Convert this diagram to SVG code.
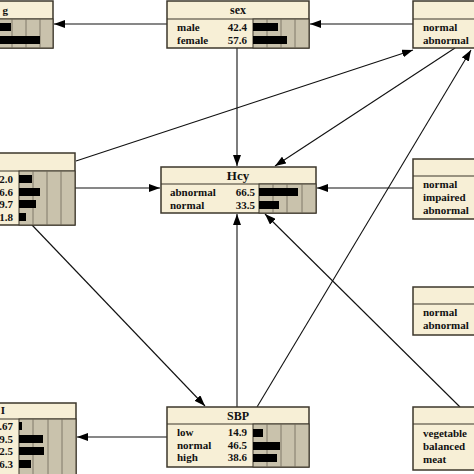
<svg xmlns="http://www.w3.org/2000/svg" width="474" height="474" viewBox="0 0 474 474">
<defs>
<style>
.box{fill:#f7efd6;stroke:#3d372b;stroke-width:1.5}
.sep{stroke:#3d372b;stroke-width:1.2}
.bararea{fill:#c9c2ac;stroke:#3d372b;stroke-width:1}
.grid{stroke:#6e6858;stroke-width:0.8}
.bar{fill:#000}
text{font-family:"Liberation Serif","Times New Roman",serif;font-weight:bold;font-size:11px;fill:#111}
.title{font-size:12px;text-anchor:middle}
.big{font-size:13px}
.val{text-anchor:end}
.conn line{stroke:#111;stroke-width:1.1;marker-end:url(#arr)}
</style>
<marker id="arr" markerUnits="userSpaceOnUse" markerWidth="11" markerHeight="8" refX="11" refY="4" orient="auto">
<path d="M0,0 L11,4 L0,8 z" fill="#000"/>
</marker>
</defs>
<rect width="474" height="474" fill="#fff"/>

<g class="conn" id="connectors">
<line x1="167" y1="24" x2="54" y2="24"/>
<line x1="413" y1="24" x2="310" y2="24"/>
<line x1="237" y1="48" x2="237" y2="166"/>
<line x1="75" y1="188" x2="160" y2="188"/>
<line x1="413" y1="188" x2="317" y2="188"/>
<line x1="455" y1="48" x2="275" y2="166"/>
<line x1="237" y1="407" x2="237" y2="214"/>
<line x1="460" y1="407" x2="265" y2="214"/>
<line x1="76" y1="161" x2="413" y2="50"/>
<line x1="257" y1="407" x2="471" y2="50"/>
<line x1="32" y1="225" x2="205" y2="406"/>
<line x1="167" y1="437" x2="77" y2="437"/>
</g>

<g id="node-topleft">
<rect class="box" x="-89" y="1" width="142" height="47"/>
<line class="sep" x1="-89" y1="19" x2="53" y2="19"/>
<rect class="bararea" x="-3" y="19" width="56" height="29"/>
<line class="grid" x1="12" y1="19" x2="12" y2="48"/>
<line class="grid" x1="26" y1="19" x2="26" y2="48"/>
<line class="grid" x1="40" y1="19" x2="40" y2="48"/>
<rect class="bar" x="-3" y="23" width="14" height="8"/>
<rect class="bar" x="-3" y="36" width="43" height="8"/>
<text x="8" y="14" class="val">g</text>
</g>

<g id="node-sex">
<rect class="box" x="167" y="1" width="142" height="47"/>
<line class="sep" x1="167" y1="19" x2="309" y2="19"/>
<rect class="bararea" x="253" y="19" width="56" height="29"/>
<line class="grid" x1="267" y1="19" x2="267" y2="48"/>
<line class="grid" x1="281" y1="19" x2="281" y2="48"/>
<line class="grid" x1="295" y1="19" x2="295" y2="48"/>
<rect class="bar" x="253" y="23" width="25" height="8"/>
<rect class="bar" x="253" y="36" width="34" height="8"/>
<text x="238" y="14" class="title">sex</text>
<text x="177" y="31">male</text>
<text x="247" y="31" class="val">42.4</text>
<text x="177" y="44">female</text>
<text x="247" y="44" class="val">57.6</text>
</g>

<g id="node-topright">
<rect class="box" x="413" y="1" width="142" height="47"/>
<line class="sep" x1="413" y1="19" x2="474" y2="19"/>
<text x="423" y="31">normal</text>
<text x="423" y="44">abnormal</text>
</g>

<g id="node-leftmid">
<rect class="box" x="-67" y="153" width="142" height="72"/>
<line class="sep" x1="-67" y1="171" x2="75" y2="171"/>
<rect class="bararea" x="19" y="171" width="56" height="54"/>
<line class="grid" x1="33" y1="171" x2="33" y2="225"/>
<line class="grid" x1="47" y1="171" x2="47" y2="225"/>
<line class="grid" x1="61" y1="171" x2="61" y2="225"/>
<rect class="bar" x="19" y="175" width="13" height="8"/>
<rect class="bar" x="19" y="188" width="21" height="8"/>
<rect class="bar" x="19" y="200" width="17" height="8"/>
<rect class="bar" x="19" y="213" width="7" height="8"/>
<text x="13" y="183" class="val">2.0</text>
<text x="13" y="196" class="val">6.6</text>
<text x="13" y="208" class="val">9.7</text>
<text x="13" y="221" class="val">1.8</text>
</g>

<g id="node-hcy">
<rect class="box" x="161" y="167" width="155" height="46"/>
<line class="sep" x1="161" y1="184" x2="316" y2="184"/>
<rect class="bararea" x="259" y="184" width="57" height="29"/>
<line class="grid" x1="273" y1="184" x2="273" y2="213"/>
<line class="grid" x1="287" y1="184" x2="287" y2="213"/>
<line class="grid" x1="302" y1="184" x2="302" y2="213"/>
<rect class="bar" x="259" y="188" width="39" height="8"/>
<rect class="bar" x="259" y="201" width="20" height="8"/>
<text x="238" y="180" class="title big">Hcy</text>
<text x="170" y="196">abnormal</text>
<text x="255" y="196" class="val">66.5</text>
<text x="170" y="209">normal</text>
<text x="255" y="209" class="val">33.5</text>
</g>

<g id="node-rightmid">
<rect class="box" x="413" y="159" width="142" height="60"/>
<line class="sep" x1="413" y1="176" x2="474" y2="176"/>
<text x="423" y="188">normal</text>
<text x="423" y="201">impaired</text>
<text x="423" y="214">abnormal</text>
</g>

<g id="node-rightlow">
<rect class="box" x="413" y="287" width="142" height="48"/>
<line class="sep" x1="413" y1="304" x2="474" y2="304"/>
<text x="423" y="316">normal</text>
<text x="423" y="329">abnormal</text>
</g>

<g id="node-diet">
<rect class="box" x="413" y="407" width="142" height="63"/>
<line class="sep" x1="413" y1="424" x2="474" y2="424"/>
<text x="423" y="437">vegetable</text>
<text x="423" y="450">balanced</text>
<text x="423" y="463">meat</text>
</g>

<g id="node-sbp">
<rect class="box" x="167" y="407" width="142" height="60"/>
<line class="sep" x1="167" y1="424" x2="309" y2="424"/>
<rect class="bararea" x="253" y="424" width="56" height="43"/>
<line class="grid" x1="267" y1="424" x2="267" y2="467"/>
<line class="grid" x1="281" y1="424" x2="281" y2="467"/>
<line class="grid" x1="295" y1="424" x2="295" y2="467"/>
<rect class="bar" x="253" y="429" width="10" height="8"/>
<rect class="bar" x="253" y="442" width="27" height="8"/>
<rect class="bar" x="253" y="454" width="24" height="8"/>
<text x="238" y="420" class="title">SBP</text>
<text x="177" y="436">low</text>
<text x="247" y="436" class="val">14.9</text>
<text x="177" y="449">normal</text>
<text x="247" y="449" class="val">46.5</text>
<text x="177" y="461">high</text>
<text x="247" y="461" class="val">38.6</text>
</g>

<g id="node-bottomleft">
<rect class="box" x="-66" y="403" width="142" height="75"/>
<line class="sep" x1="-66" y1="419" x2="76" y2="419"/>
<rect class="bararea" x="19" y="419" width="57" height="59"/>
<line class="grid" x1="33" y1="419" x2="33" y2="478"/>
<line class="grid" x1="48" y1="419" x2="48" y2="478"/>
<line class="grid" x1="62" y1="419" x2="62" y2="478"/>
<rect class="bar" x="19" y="422" width="3" height="8"/>
<rect class="bar" x="19" y="435" width="24" height="8"/>
<rect class="bar" x="19" y="447" width="25" height="8"/>
<rect class="bar" x="19" y="460" width="12" height="8"/>
<text x="5" y="414" class="val">I</text>
<text x="13" y="430" class="val">.67</text>
<text x="13" y="443" class="val">9.5</text>
<text x="13" y="455" class="val">2.5</text>
<text x="13" y="468" class="val">6.3</text>
</g>
</svg>
